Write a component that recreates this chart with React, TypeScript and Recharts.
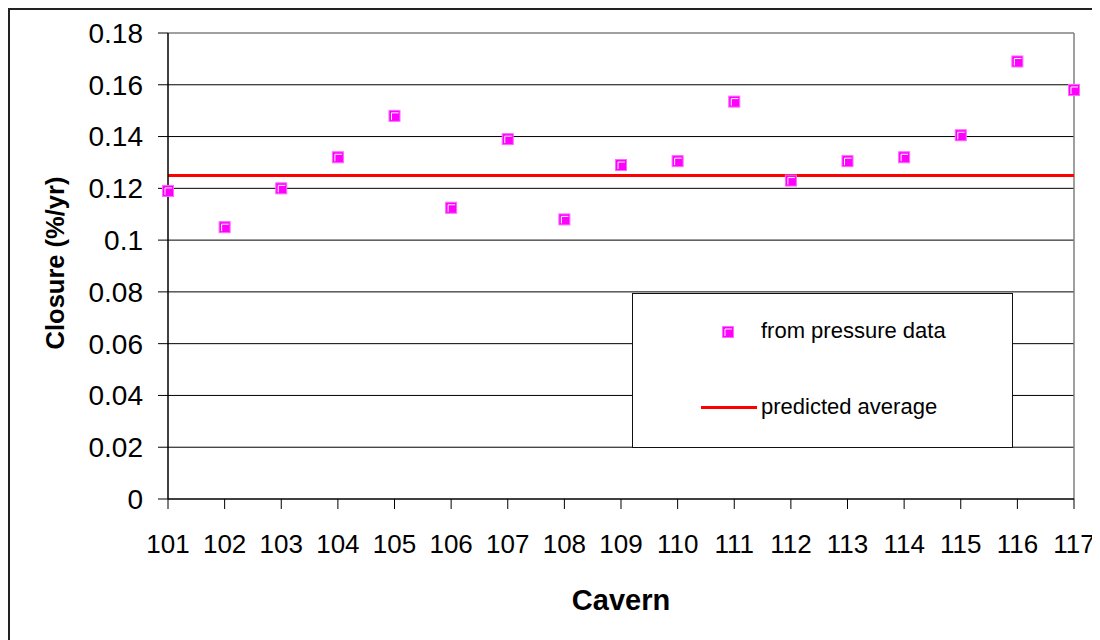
import {
  ComposedChart,
  Scatter,
  XAxis,
  YAxis,
  CartesianGrid,
  ReferenceLine,
  Legend,
  Label,
} from "recharts"

const caverns = [101, 102, 103, 104, 105, 106, 107, 108, 109, 110, 111, 112, 113, 114, 115, 116, 117]
const closure = [
  0.119, 0.105, 0.12, 0.132, 0.148, 0.1125, 0.139, 0.108, 0.129, 0.1305, 0.1535, 0.123, 0.1305,
  0.132, 0.1405, 0.169, 0.158,
]
const predictedAverage = 0.125
const yTicks = [0, 0.02, 0.04, 0.06, 0.08, 0.1, 0.12, 0.14, 0.16, 0.18]
const gridValues = [0.02, 0.04, 0.06, 0.08, 0.1, 0.12, 0.14, 0.16]

const data = caverns.map((c, i) => ({ cavern: c, closure: closure[i] }))

const FONT = "'Liberation Sans', Arial, sans-serif"

function SquareMarker(props: { cx?: number; cy?: number }) {
  const { cx = 0, cy = 0 } = props
  return (
    <g>
      <rect x={cx - 5.5} y={cy - 5.5} width={11} height={11} fill="#FF00FF" stroke="#FF66FF" strokeWidth={1} />
      <path d={`M${cx - 3},${cy + 4} V${cy - 3} H${cx + 4}`} stroke="#FFFFFF" strokeWidth={1} fill="none" />
    </g>
  )
}

function LegendBox() {
  return (
    <div
      style={{
        position: "relative",
        width: 381,
        height: 155,
        border: "1.5px solid #111",
        boxSizing: "border-box",
        background: "#fff",
        fontFamily: FONT,
        fontSize: 22,
        color: "#000",
      }}
    >
      <svg style={{ position: "absolute", left: 88, top: 31 }} width={14} height={14}>
        <SquareMarker cx={7} cy={7} />
      </svg>
      <div style={{ position: "absolute", left: 128, top: 24, lineHeight: "26px", whiteSpace: "nowrap" }}>
        from pressure data
      </div>
      <div style={{ position: "absolute", left: 68, top: 112, width: 56, height: 3, background: "#FF0000" }} />
      <div style={{ position: "absolute", left: 128, top: 100, lineHeight: "26px", whiteSpace: "nowrap" }}>
        predicted average
      </div>
    </div>
  )
}

function YTitle(props: { viewBox?: { x: number; y: number; width: number; height: number } }) {
  const vb = props.viewBox ?? { x: 0, y: 0, width: 0, height: 0 }
  const x = vb.x + 47
  const y = vb.y + vb.height / 2 - 3
  return (
    <text
      x={x}
      y={y}
      transform={`rotate(-90, ${x}, ${y})`}
      textAnchor="middle"
      dominantBaseline="central"
      fontFamily={FONT}
      fontWeight="bold"
      fontSize={25.5}
      fill="#000"
    >
      Closure (%/yr)
    </text>
  )
}

export default function App() {
  return (
    <div style={{ position: "relative", width: 1092, height: 632, background: "#fff" }}>
      <div
        style={{
          position: "absolute",
          left: 0,
          top: 0,
          width: 1092,
          height: 632,
          borderLeft: "2px solid #222",
          borderTop: "2px solid #222",
          boxSizing: "border-box",
        }}
      />
      <ComposedChart
        width={1092}
        height={632}
        data={data}
        margin={{ top: 25, right: 26, left: 0, bottom: 0 }}
        style={{ position: "absolute", left: 0, top: 0, fontFamily: FONT }}
      >
        <CartesianGrid vertical={false} stroke="#000" horizontalValues={gridValues} />
        <XAxis
          dataKey="cavern"
          type="number"
          domain={[101, 117]}
          ticks={caverns}
          interval={0}
          height={141}
          tickSize={10}
          tickMargin={26}
          axisLine={{ stroke: "#000", strokeWidth: 1.5 }}
          tickLine={{ stroke: "#000" }}
          tick={{ fill: "#000", fontSize: 26, fontFamily: FONT }}
        >
          <Label
            value="Cavern"
            position="insideBottom"
            offset={30}
            style={{ fontFamily: FONT, fontWeight: "bold", fontSize: 29, fill: "#000" }}
          />
        </XAxis>
        <YAxis
          type="number"
          domain={[0, 0.18]}
          ticks={yTicks}
          interval={0}
          width={160}
          tickSize={10}
          tickMargin={15}
          axisLine={{ stroke: "#000", strokeWidth: 1.5 }}
          tickLine={{ stroke: "#000" }}
          tick={{ fill: "#000", fontSize: 28, fontFamily: FONT }}
          tickFormatter={(v: number) => String(v)}
        >
          <Label content={<YTitle />} />
        </YAxis>
        <ReferenceLine y={0.18} stroke="#808080" strokeWidth={1.5} />
        <ReferenceLine x={117} stroke="#808080" strokeWidth={1.5} />
        <ReferenceLine y={predictedAverage} stroke="#FF0000" strokeWidth={3} />
        <Scatter
          name="from pressure data"
          dataKey="closure"
          shape={<SquareMarker />}
          isAnimationActive={false}
        />
        <Legend
          layout="horizontal"
          verticalAlign="middle"
          align="center"
          wrapperStyle={{ position: "absolute", left: 624, top: 285, width: 381, height: 155 }}
          content={() => <LegendBox />}
        />
      </ComposedChart>
    </div>
  )
}
